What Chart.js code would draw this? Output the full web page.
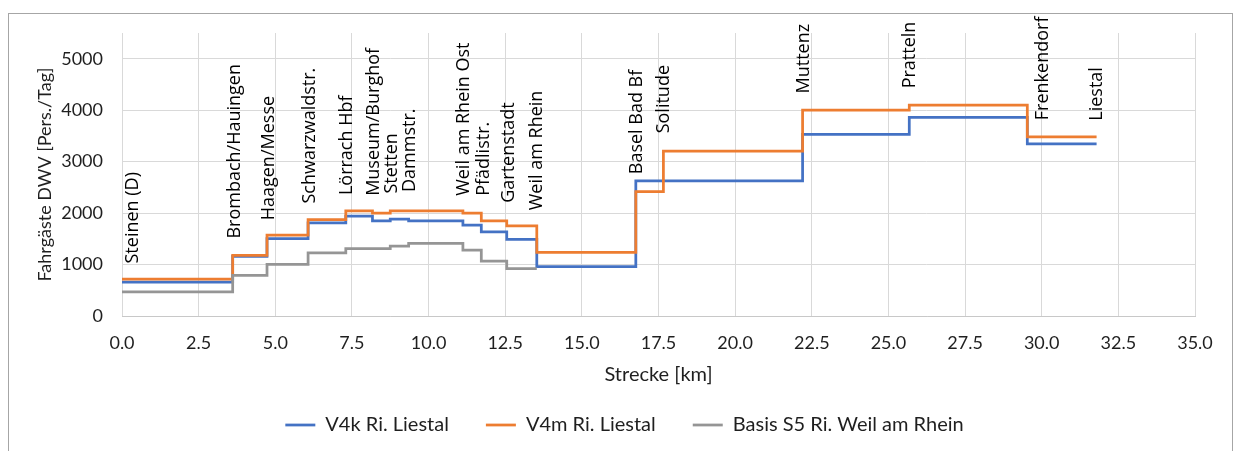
<!DOCTYPE html>
<html lang="de">
<head>
<meta charset="utf-8">
<title>Fahrgäste DWV</title>
<script src="https://cdn.jsdelivr.net/npm/chart.js@4.4.1/dist/chart.umd.min.js"></script>
<style>
  html, body { margin: 0; padding: 0; background: #fff; }
</style>
</head>
<body>
<canvas id="chart" width="1239" height="451"></canvas>
<script>
// Abschnittsbeginn in km; jeder Wert gilt ab dieser Haltestelle bis zur nächsten
const stationKm = [0, 3.61, 4.73, 6.07, 7.30, 8.17, 8.75, 9.35, 11.12, 11.72, 12.55, 13.53, 16.76, 17.66, 22.20, 25.68, 29.53, 31.79];
const v4k     = [660, 1160, 1505, 1810, 1940, 1850, 1885, 1850, 1765, 1635, 1490, 960, 2625, 2625, 3530, 3860, 3345, 3345];
const v4m     = [715, 1180, 1570, 1875, 2045, 2000, 2045, 2045, 2000, 1850, 1750, 1235, 2415, 3205, 4000, 4100, 3480, 3480];
const basisS5 = [470, 790, 1005, 1225, 1310, 1310, 1360, 1410, 1280, 1065, 920, 920];

// Haltestellennamen, senkrecht über der Strecke beschriftet
const stationNames = ['Steinen (D)', 'Brombach/Hauingen', 'Haagen/Messe', 'Schwarzwaldstr.', 'Lörrach Hbf',
  'Museum/Burghof', 'Stetten', 'Dammstr.', 'Weil am Rhein Ost', 'Pfädlistr.', 'Gartenstadt', 'Weil am Rhein',
  'Basel Bad Bf', 'Solitude', 'Muttenz', 'Pratteln', 'Frenkendorf', 'Liestal'];
const labelKm    = [0, 3.69, 4.78, 6.12, 7.34, 8.20, 8.80, 9.40, 11.14, 11.79, 12.61, 13.53, 16.81, 17.68, 22.25, 25.70, 30.05, 31.79];
const labelLevel = [1020, 1505, 1860, 2185, 2350, 2335, 2380, 2410, 2335, 2335, 2200, 2055, 2755, 3550, 4325, 4425, 3805, 3795];

// Achsenteilung
const yTicks = [0, 1000, 2000, 3000, 4000, 5000];

const seriesNames = ['V4k Ri. Liestal', 'V4m Ri. Liestal', 'Basis S5 Ri. Weil am Rhein'];
const seriesColors = ['#4472C4', '#ED7D31', '#959595'];

const toPoints = vals => vals.map((v, i) => ({ x: stationKm[i], y: v }));

const GRID = '#d9d9d9';
const TEXT = '#1f1f1f';
const SANS = 'Lato, "Open Sans", sans-serif';

// Rahmen um die ganze Grafik
const frame = {
  id: 'frame',
  beforeDraw(chart) {
    const ctx = chart.ctx;
    ctx.save();
    ctx.strokeStyle = '#a6a6a6';
    ctx.lineWidth = 1;
    ctx.strokeRect(8.5, 13.5, 1224, 480);
    ctx.restore();
  }
};

// Haltestellenbeschriftung, um 90° gedreht
const stationLabels = {
  id: 'stationLabels',
  afterDatasetsDraw(chart) {
    const { ctx, chartArea } = chart;
    const xs = chart.scales.x, ys = chart.scales.y;
    ctx.save();
    ctx.font = '18px "Open Sans", sans-serif';
    ctx.fillStyle = '#000';
    ctx.textAlign = 'left';
    ctx.textBaseline = 'middle';
    stationNames.forEach((name, i) => {
      const x = Math.max(xs.getPixelForValue(labelKm[i]), chartArea.left + 11);
      const y = ys.getPixelForValue(labelLevel[i]);
      ctx.save();
      ctx.translate(x, y);
      ctx.rotate(-Math.PI / 2);
      ctx.fillText(name, 0, 0);
      ctx.restore();
    });
    ctx.restore();
  }
};

new Chart(document.getElementById('chart'), {
  type: 'line',
  data: {
    datasets: [
      { label: seriesNames[0], data: toPoints(v4k), borderColor: seriesColors[0], order: 2 },
      { label: seriesNames[1], data: toPoints(v4m), borderColor: seriesColors[1], order: 1 },
      { label: seriesNames[2], data: toPoints(basisS5), borderColor: seriesColors[2], order: 0 }
    ].map(ds => Object.assign(ds, {
      backgroundColor: ds.borderColor,
      borderWidth: 2.75,
      pointRadius: 0,
      stepped: 'before',
      fill: false
    }))
  },
  options: {
    responsive: false,
    animation: false,
    events: [],
    layout: { padding: { left: 10, right: 0, top: 33, bottom: 6 } },
    scales: {
      x: {
        type: 'linear',
        min: 0,
        max: 35,
        ticks: {
          stepSize: 2.5,
          padding: 16,
          color: TEXT,
          font: { family: SANS, size: 18 },
          callback: v => v.toFixed(1),
          maxRotation: 0,
          autoSkip: false
        },
        grid: { color: GRID, drawTicks: false },
        border: { color: '#c8c8c8' },
        title: {
          display: true,
          text: 'Strecke [km]',
          color: TEXT,
          font: { family: SANS, size: 20 },
          padding: { top: 0, bottom: -9 }
        },
        afterFit: s => { s.height = 62; }
      },
      y: {
        type: 'linear',
        min: 0,
        max: 5500,
        afterBuildTicks: s => { s.ticks = yTicks.map(v => ({ value: v })); },
        ticks: {
          autoSkip: false,
          padding: 19,
          color: TEXT,
          font: { family: SANS, size: 18 },
          callback: v => String(v)
        },
        grid: { color: GRID, drawTicks: false },
        border: { display: false },
        title: {
          display: true,
          text: 'Fahrgäste DWV [Pers./Tag]',
          color: TEXT,
          font: { family: SANS, size: 18 },
          padding: { top: 24, bottom: 0 }
        },
        afterFit: s => { s.width = 112; }
      },
      // leerer Rand rechts neben der Zeichenfläche
      yRight: {
        type: 'linear',
        position: 'right',
        grid: { display: false },
        border: { display: false },
        ticks: { display: false },
        afterFit: s => { s.width = 44; }
      }
    },
    plugins: {
      tooltip: { enabled: false },
      legend: {
        position: 'bottom',
        labels: {
          usePointStyle: true,
          pointStyle: 'line',
          pointStyleWidth: 30,
          padding: 37,
          color: TEXT,
          font: { family: SANS, size: 20 },
          sort: (a, b) => a.datasetIndex - b.datasetIndex
        }
      }
    }
  },
  plugins: [frame, stationLabels]
});
</script>
</body>
</html>
